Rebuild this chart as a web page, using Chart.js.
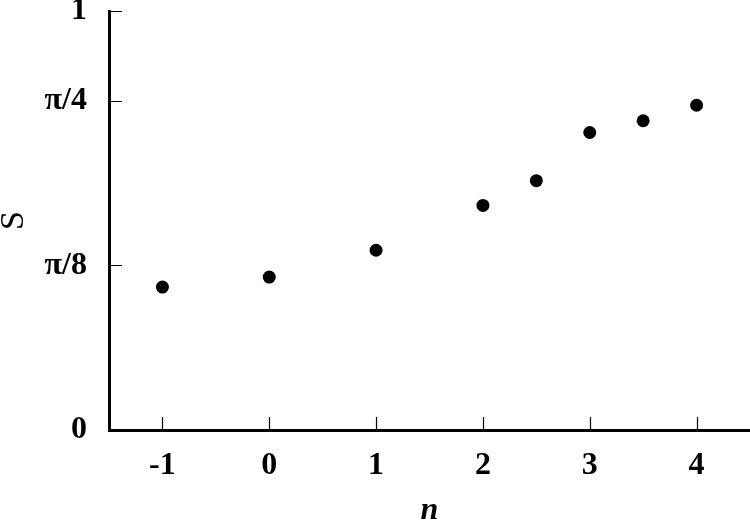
<!DOCTYPE html>
<html>
<head>
<meta charset="utf-8">
<script src="https://cdn.jsdelivr.net/npm/chart.js@4.4.0/dist/chart.umd.min.js"></script>
<style>
  html, body { margin: 0; padding: 0; background: #fff; overflow: hidden; }
  #wrap { position: relative; width: 750px; height: 525px; }
  canvas { display: block; }
</style>
</head>
<body>
<div id="wrap"><canvas id="chart"></canvas></div>
<script>
// Data
const nValues = [-1, 0, 1, 2, 2.5, 3, 3.5, 4];
const sValues = [0.341, 0.365, 0.429, 0.536, 0.595, 0.710, 0.738, 0.775];

// Axis ticks
const xTickValues = [-1, 0, 1, 2, 3, 4];
const yTickValues = [0, Math.PI / 8, Math.PI / 4, 1];
const yTickLabels = ['0', 'π/8', 'π/4', '1'];

const serif = '"Liberation Serif", "DejaVu Serif", serif';

// Draw short tick marks pointing into the plot
const innerTicks = {
    id: 'innerTicks',
    afterDatasetsDraw(chart) {
        const ctx = chart.ctx;
        const area = chart.chartArea;
        const x = chart.scales.x;
        const y = chart.scales.y;
        ctx.save();
        ctx.strokeStyle = '#000';
        ctx.lineWidth = 1.2;
        ctx.beginPath();
        xTickValues.forEach(v => {
            const px = Math.round(x.getPixelForValue(v)) + 0.5;
            ctx.moveTo(px, area.bottom);
            ctx.lineTo(px, area.bottom - 13);
        });
        yTickValues.forEach(v => {
            const py = Math.round(y.getPixelForValue(v)) + 0.5;
            ctx.moveTo(area.left, py);
            ctx.lineTo(area.left + 13, py);
        });
        ctx.stroke();
        ctx.restore();
    }
};

function createChart() {
    const ctx = document.getElementById('chart').getContext('2d');
    new Chart(ctx, {
        type: 'scatter',
        data: {
            datasets: [{
                data: nValues.map((n, i) => ({ x: n, y: sValues[i] })),
                backgroundColor: '#000',
                borderColor: '#000',
                pointRadius: 6.5,
                pointBorderWidth: 0
            }]
        },
        options: {
            responsive: true,
            maintainAspectRatio: false,
            animation: false,
            layout: { autoPadding: false, padding: { top: 11, right: 0, bottom: 0, left: 0 } },
            plugins: {
                legend: { display: false },
                tooltip: { enabled: false }
            },
            scales: {
                x: {
                    type: 'linear',
                    min: -1.5,
                    max: 4.5,
                    afterBuildTicks: scale => {
                        scale.ticks = xTickValues.map(v => ({ value: v }));
                    },
                    afterFit: scale => {
                        scale.height = 95;
                        scale.paddingLeft = 0;
                        scale.paddingRight = 0;
                    },
                    grid: { display: false, drawTicks: false },
                    border: { display: true, color: '#000', width: 3 },
                    ticks: {
                        color: '#000',
                        padding: 17,
                        maxRotation: 0,
                        font: { family: serif, size: 32, weight: 'bold' },
                        callback: v => String(v)
                    },
                    title: {
                        display: true,
                        text: 'n',
                        color: '#000',
                        padding: 0,
                        font: { family: serif, size: 32, style: 'italic', weight: 'bold', lineHeight: 0.9 }
                    }
                },
                y: {
                    type: 'linear',
                    min: 0,
                    max: 1,
                    afterBuildTicks: scale => {
                        scale.ticks = yTickValues.map(v => ({ value: v }));
                    },
                    afterFit: scale => {
                        scale.width = 109;
                        scale.paddingTop = 0;
                        scale.paddingBottom = 0;
                    },
                    grid: { display: false, drawTicks: false },
                    border: { display: true, color: '#000', width: 3 },
                    ticks: {
                        color: '#000',
                        padding: 22,
                        font: { family: serif, size: 32, weight: 'bold' },
                        callback: (v, i) => yTickLabels[i]
                    },
                    title: {
                        display: true,
                        text: 'S',
                        color: '#000',
                        padding: 0,
                        font: { family: serif, size: 34, lineHeight: 0.8 }
                    }
                }
            }
        },
        plugins: [innerTicks]
    });
}

window.onload = createChart;
</script>
</body>
</html>
